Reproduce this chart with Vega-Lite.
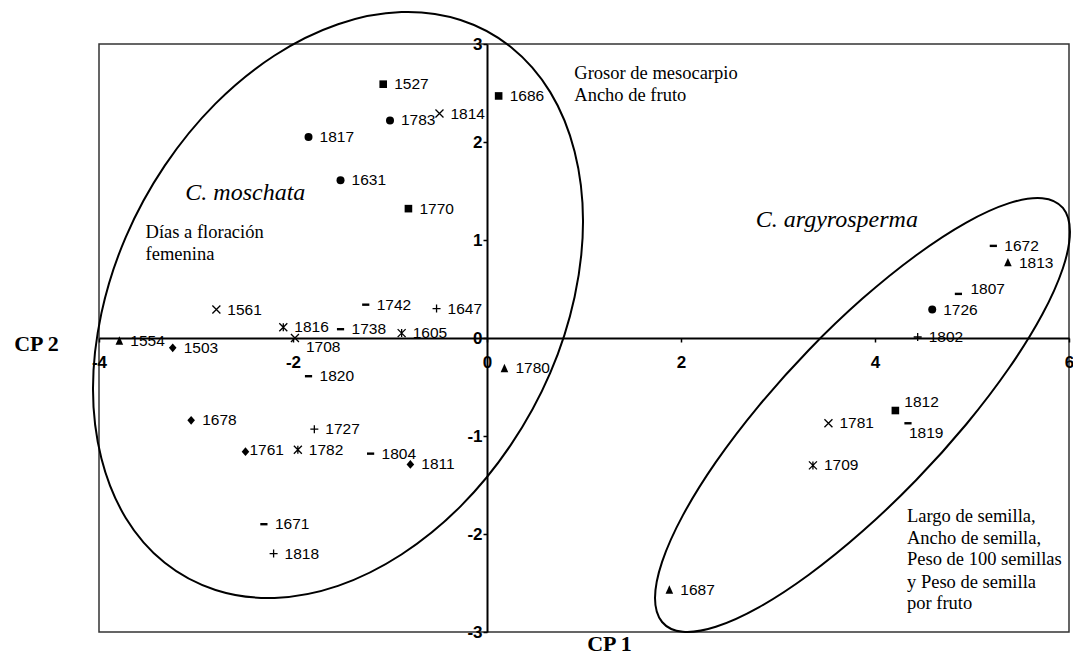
{
  "$schema": "https://vega.github.io/schema/vega-lite/v6.json",
  "width": 970,
  "height": 588,
  "autosize": {"type": "none"},
  "padding": {"left": 99, "top": 44, "right": 4, "bottom": 23},
  "background": "white",
  "config": {"view": {"stroke": "#333333", "strokeWidth": 1.5}, "font": "Liberation Sans"},
  "datasets": {
    "puntos": [
      {"id": "1527", "x": -1.07, "y": 2.59, "g": "g1"},
      {"id": "1770", "x": -0.81, "y": 1.32, "g": "g1"},
      {"id": "1686", "x": 0.12, "y": 2.47, "g": "g1"},
      {"id": "1812", "x": 4.21, "y": -0.74, "g": "g1"},
      {"id": "1783", "x": -1.0, "y": 2.22, "g": "g2"},
      {"id": "1817", "x": -1.84, "y": 2.05, "g": "g2"},
      {"id": "1631", "x": -1.51, "y": 1.61, "g": "g2"},
      {"id": "1726", "x": 4.59, "y": 0.29, "g": "g2"},
      {"id": "1554", "x": -3.79, "y": -0.03, "g": "g3"},
      {"id": "1780", "x": 0.18, "y": -0.31, "g": "g3"},
      {"id": "1813", "x": 5.37, "y": 0.77, "g": "g3"},
      {"id": "1687", "x": 1.88, "y": -2.57, "g": "g3"},
      {"id": "1503", "x": -3.24, "y": -0.1, "g": "g4"},
      {"id": "1678", "x": -3.05, "y": -0.84, "g": "g4"},
      {"id": "1761", "x": -2.49, "y": -1.16, "g": "g4"},
      {"id": "1811", "x": -0.79, "y": -1.29, "g": "g4"},
      {"id": "1742", "x": -1.25, "y": 0.34, "g": "g5"},
      {"id": "1738", "x": -1.51, "y": 0.09, "g": "g5"},
      {"id": "1820", "x": -1.84, "y": -0.39, "g": "g5"},
      {"id": "1804", "x": -1.2, "y": -1.18, "g": "g5"},
      {"id": "1671", "x": -2.3, "y": -1.9, "g": "g5"},
      {"id": "1672", "x": 5.22, "y": 0.94, "g": "g5"},
      {"id": "1807", "x": 4.86, "y": 0.45, "g": "g5"},
      {"id": "1819", "x": 4.34, "y": -0.87, "g": "g5"},
      {"id": "1814", "x": -0.49, "y": 2.29, "g": "g6"},
      {"id": "1561", "x": -2.79, "y": 0.29, "g": "g6"},
      {"id": "1708", "x": -1.98, "y": 0.0, "g": "g6"},
      {"id": "1781", "x": 3.52, "y": -0.87, "g": "g6"},
      {"id": "1816", "x": -2.1, "y": 0.11, "g": "g7"},
      {"id": "1605", "x": -0.88, "y": 0.05, "g": "g7"},
      {"id": "1782", "x": -1.95, "y": -1.14, "g": "g7"},
      {"id": "1709", "x": 3.36, "y": -1.3, "g": "g7"},
      {"id": "1647", "x": -0.52, "y": 0.3, "g": "g8"},
      {"id": "1727", "x": -1.78, "y": -0.93, "g": "g8"},
      {"id": "1818", "x": -2.2, "y": -2.2, "g": "g8"},
      {"id": "1802", "x": 4.44, "y": 0.01, "g": "g8"}
    ],
    "elipses": [
      {"e": "moschata", "k": 1, "x": 0.99, "y": 1.191},
      {"e": "moschata", "k": 2, "x": 0.903, "y": 0.419},
      {"e": "moschata", "k": 3, "x": 0.652, "y": -0.356},
      {"e": "moschata", "k": 4, "x": 0.249, "y": -1.086},
      {"e": "moschata", "k": 5, "x": -0.273, "y": -1.718},
      {"e": "moschata", "k": 6, "x": -0.882, "y": -2.209},
      {"e": "moschata", "k": 7, "x": -1.536, "y": -2.529},
      {"e": "moschata", "k": 8, "x": -2.19, "y": -2.652},
      {"e": "moschata", "k": 9, "x": -2.799, "y": -2.571},
      {"e": "moschata", "k": 10, "x": -3.322, "y": -2.294},
      {"e": "moschata", "k": 11, "x": -3.724, "y": -1.836},
      {"e": "moschata", "k": 12, "x": -3.975, "y": -1.23},
      {"e": "moschata", "k": 13, "x": -4.062, "y": -0.517},
      {"e": "moschata", "k": 14, "x": -3.975, "y": 0.254},
      {"e": "moschata", "k": 15, "x": -3.724, "y": 1.03},
      {"e": "moschata", "k": 16, "x": -3.322, "y": 1.759},
      {"e": "moschata", "k": 17, "x": -2.799, "y": 2.392},
      {"e": "moschata", "k": 18, "x": -2.19, "y": 2.883},
      {"e": "moschata", "k": 19, "x": -1.536, "y": 3.202},
      {"e": "moschata", "k": 20, "x": -0.882, "y": 3.326},
      {"e": "moschata", "k": 21, "x": -0.273, "y": 3.245},
      {"e": "moschata", "k": 22, "x": 0.249, "y": 2.967},
      {"e": "moschata", "k": 23, "x": 0.652, "y": 2.509},
      {"e": "moschata", "k": 24, "x": 0.903, "y": 1.903},
      {"e": "argyrosperma", "k": 1, "x": 6.01, "y": 1.083},
      {"e": "argyrosperma", "k": 2, "x": 5.937, "y": 0.712},
      {"e": "argyrosperma", "k": 3, "x": 5.724, "y": 0.239},
      {"e": "argyrosperma", "k": 4, "x": 5.384, "y": -0.304},
      {"e": "argyrosperma", "k": 5, "x": 4.941, "y": -0.88},
      {"e": "argyrosperma", "k": 6, "x": 4.425, "y": -1.449},
      {"e": "argyrosperma", "k": 7, "x": 3.871, "y": -1.973},
      {"e": "argyrosperma", "k": 8, "x": 3.318, "y": -2.416},
      {"e": "argyrosperma", "k": 9, "x": 2.802, "y": -2.749},
      {"e": "argyrosperma", "k": 10, "x": 2.359, "y": -2.947},
      {"e": "argyrosperma", "k": 11, "x": 2.019, "y": -2.998},
      {"e": "argyrosperma", "k": 12, "x": 1.805, "y": -2.898},
      {"e": "argyrosperma", "k": 13, "x": 1.732, "y": -2.654},
      {"e": "argyrosperma", "k": 14, "x": 1.805, "y": -2.284},
      {"e": "argyrosperma", "k": 15, "x": 2.019, "y": -1.81},
      {"e": "argyrosperma", "k": 16, "x": 2.359, "y": -1.267},
      {"e": "argyrosperma", "k": 17, "x": 2.802, "y": -0.692},
      {"e": "argyrosperma", "k": 18, "x": 3.318, "y": -0.122},
      {"e": "argyrosperma", "k": 19, "x": 3.871, "y": 0.402},
      {"e": "argyrosperma", "k": 20, "x": 4.425, "y": 0.845},
      {"e": "argyrosperma", "k": 21, "x": 4.941, "y": 1.178},
      {"e": "argyrosperma", "k": 22, "x": 5.384, "y": 1.376},
      {"e": "argyrosperma", "k": 23, "x": 5.724, "y": 1.427},
      {"e": "argyrosperma", "k": 24, "x": 5.937, "y": 1.327}
    ],
    "notas": [
      {"x": 0.9, "y": 2.7, "t": "Grosor de mesocarpio", "tipo": "variable"},
      {"x": 0.9, "y": 2.48, "t": "Ancho de fruto", "tipo": "variable"},
      {"x": -3.52, "y": 1.08, "t": "Días a floración", "tipo": "variable"},
      {"x": -3.52, "y": 0.86, "t": "femenina", "tipo": "variable"},
      {"x": 4.33, "y": -1.82, "t": "Largo de semilla,", "tipo": "variable"},
      {"x": 4.33, "y": -2.04, "t": "Ancho de semilla,", "tipo": "variable"},
      {"x": 4.33, "y": -2.26, "t": "Peso de 100 semillas", "tipo": "variable"},
      {"x": 4.33, "y": -2.49, "t": "y Peso de semilla", "tipo": "variable"},
      {"x": 4.33, "y": -2.7, "t": "por fruto", "tipo": "variable"},
      {"x": -3.11, "y": 1.48, "t": "C. moschata", "tipo": "especie"},
      {"x": 2.77, "y": 1.2, "t": "C. argyrosperma", "tipo": "especie"}
    ]
  },
  "encoding": {
    "x": {
      "field": "x", "type": "quantitative",
      "scale": {"domain": [-4, 6], "nice": false, "zero": false},
      "axis": {
        "values": [-4, -2, 0, 2, 4, 6], "offset": -294, "grid": false,
        "domainColor": "black", "domainWidth": 2,
        "tickColor": "black", "tickWidth": 1.5, "tickSize": 4,
        "labelExpr": "'' + datum.value",
        "labelFont": "Liberation Sans", "labelFontWeight": "bold", "labelFontSize": 17, "labelColor": "black",
        "labelPadding": 12, "labelFlush": false, "labelOverlap": false,
        "title": "CP 1", "titleFont": "Liberation Serif", "titleFontSize": 22, "titleFontWeight": "bold", "titleColor": "black",
        "titleX": 510, "titleY": 305, "titleAlign": "center", "titleBaseline": "middle"
      }
    },
    "y": {
      "field": "y", "type": "quantitative",
      "scale": {"domain": [-3, 3], "nice": false, "zero": false},
      "axis": {
        "values": [-3, -2, -1, 0, 1, 2, 3], "offset": -388, "grid": false,
        "domainColor": "black", "domainWidth": 2,
        "tickColor": "black", "tickWidth": 1.5, "tickSize": 4,
        "labelExpr": "'' + datum.value",
        "labelFont": "Liberation Sans", "labelFontWeight": "bold", "labelFontSize": 17, "labelColor": "black",
        "labelPadding": 1, "labelFlush": false, "labelOverlap": false,
        "title": "CP 2", "titleFont": "Liberation Serif", "titleFontSize": 22, "titleFontWeight": "bold", "titleColor": "black",
        "titleAngle": 0, "titleX": -451, "titleY": 299, "titleAlign": "center", "titleBaseline": "middle"
      }
    }
  },
  "layer": [
    {
      "data": {"name": "elipses"},
      "mark": {"type": "line", "interpolate": "cardinal-closed", "color": "black", "strokeWidth": 2, "clip": false},
      "encoding": {"detail": {"field": "e"}, "order": {"field": "k", "type": "quantitative"}}
    },
    {
      "data": {"name": "puntos"},
      "transform": [{"filter": {"field": "g", "oneOf": ["g1", "g2", "g3", "g4", "g5"]}}],
      "mark": {"type": "point", "filled": true, "color": "black", "opacity": 1, "size": 64},
      "encoding": {
        "shape": {
          "field": "g", "type": "nominal", "legend": null,
          "scale": {
            "domain": ["g1", "g2", "g3", "g4", "g5", "g6", "g7", "g8"],
            "range": [
              "M-0.95,-0.95H0.95V0.95H-0.95Z",
              "circle",
              "M0,-1.15L0.95,0.95L-0.95,0.95Z",
              "M0,-1.1L0.95,0L0,1.1L-0.95,0Z",
              "M-0.9,-0.3H0.9V0.3H-0.9Z",
              "M-1,-1L1,1M-1,1L1,-1",
              "M-1,-1L1,1M-1,1L1,-1M0,-1L0,1",
              "M-1,0H1M0,-1V1"
            ]
          }
        }
      }
    },
    {
      "data": {"name": "puntos"},
      "transform": [{"filter": {"field": "g", "oneOf": ["g6", "g7", "g8"]}}],
      "mark": {"type": "point", "filled": false, "color": "black", "opacity": 1, "size": 64, "strokeWidth": 1.3},
      "encoding": {
        "shape": {
          "field": "g", "type": "nominal", "legend": null,
          "scale": {
            "domain": ["g1", "g2", "g3", "g4", "g5", "g6", "g7", "g8"],
            "range": [
              "M-0.95,-0.95H0.95V0.95H-0.95Z",
              "circle",
              "M0,-1.15L0.95,0.95L-0.95,0.95Z",
              "M0,-1.1L0.95,0L0,1.1L-0.95,0Z",
              "M-0.9,-0.3H0.9V0.3H-0.9Z",
              "M-1,-1L1,1M-1,1L1,-1",
              "M-1,-1L1,1M-1,1L1,-1M0,-1L0,1",
              "M-1,0H1M0,-1V1"
            ]
          }
        }
      }
    },
    {
      "data": {"name": "puntos"},
      "transform": [{"filter": {"not": {"field": "id", "oneOf": ["1708", "1819", "1761", "1812", "1807"]}}}],
      "mark": {"type": "text", "align": "left", "baseline": "middle", "dx": 11, "font": "Liberation Sans", "fontSize": 15.5, "color": "black"},
      "encoding": {"text": {"field": "id"}}
    },
    {
      "data": {"name": "puntos"},
      "transform": [{"filter": {"field": "id", "equal": "1708"}}],
      "mark": {"type": "text", "align": "left", "baseline": "middle", "dx": 11, "dy": 9, "font": "Liberation Sans", "fontSize": 15.5, "color": "black"},
      "encoding": {"text": {"field": "id"}}
    },
    {
      "data": {"name": "puntos"},
      "transform": [{"filter": {"field": "id", "equal": "1819"}}],
      "mark": {"type": "text", "align": "left", "baseline": "middle", "dx": 1, "dy": 10, "font": "Liberation Sans", "fontSize": 15.5, "color": "black"},
      "encoding": {"text": {"field": "id"}}
    },
    {
      "data": {"name": "puntos"},
      "transform": [{"filter": {"field": "id", "equal": "1761"}}],
      "mark": {"type": "text", "align": "left", "baseline": "middle", "dx": 4, "dy": -2, "font": "Liberation Sans", "fontSize": 15.5, "color": "black"},
      "encoding": {"text": {"field": "id"}}
    },
    {
      "data": {"name": "puntos"},
      "transform": [{"filter": {"field": "id", "equal": "1812"}}],
      "mark": {"type": "text", "align": "left", "baseline": "middle", "dx": 9, "dy": -9, "font": "Liberation Sans", "fontSize": 15.5, "color": "black"},
      "encoding": {"text": {"field": "id"}}
    },
    {
      "data": {"name": "puntos"},
      "transform": [{"filter": {"field": "id", "equal": "1807"}}],
      "mark": {"type": "text", "align": "left", "baseline": "middle", "dx": 12, "dy": -5, "font": "Liberation Sans", "fontSize": 15.5, "color": "black"},
      "encoding": {"text": {"field": "id"}}
    },
    {
      "data": {"name": "notas"},
      "transform": [{"filter": {"field": "tipo", "equal": "variable"}}],
      "mark": {"type": "text", "align": "left", "baseline": "middle", "font": "Liberation Serif", "fontSize": 18.5, "color": "black"},
      "encoding": {"text": {"field": "t"}}
    },
    {
      "data": {"name": "notas"},
      "transform": [{"filter": {"field": "tipo", "equal": "especie"}}],
      "mark": {"type": "text", "align": "left", "baseline": "middle", "font": "Liberation Serif", "fontStyle": "italic", "fontSize": 24, "color": "black"},
      "encoding": {"text": {"field": "t"}}
    }
  ]
}
